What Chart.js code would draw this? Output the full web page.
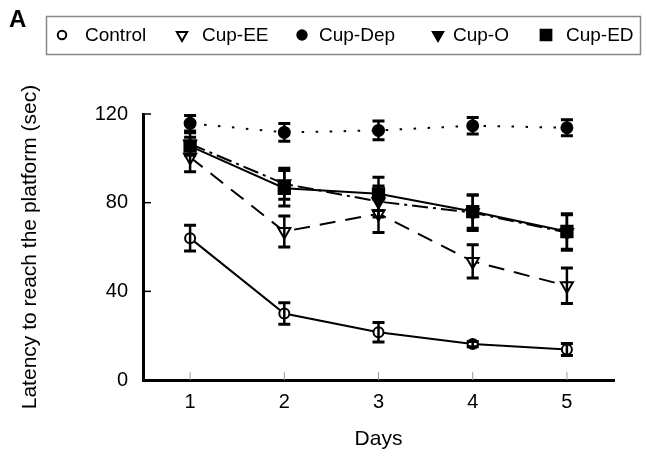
<!DOCTYPE html>
<html>
<head>
<meta charset="utf-8">
<script src="https://cdn.jsdelivr.net/npm/chart.js@4.4.1/dist/chart.umd.min.js"></script>
<style>
html,body{margin:0;padding:0;background:#fff;}
#wrap{position:relative;width:646px;height:463px;}
canvas{display:block;}
</style>
</head>
<body>
<div id="wrap"><canvas id="c" width="646" height="463"></canvas></div>
<script>
// ---- data ----
const days = [1, 2, 3, 4, 5];
const yTicks = [0, 40, 80, 120];
const seriesNames = ["Control", "Cup-EE", "Cup-Dep", "Cup-O", "Cup-ED"];
const control    = [64, 30, 21.5, 16.2, 13.8];
const controlErr = [5.8, 4.8, 4.4, 1.2, 2.7];
const cupEE      = [100.5, 67, 75, 53.5, 42.5];
const cupEEErr   = [6.5, 7, 8.5, 7.5, 8];
const cupDep     = [115.8, 111.7, 112.6, 114.7, 113.8];
const cupDepErr  = [3.5, 4, 4.2, 3.7, 3.6];
const cupO       = [106.5, 88.5, 80.5, 75.5, 66.5];
const cupOErr    = [5, 7, 7, 8, 8];
const cupED      = [105.5, 86.5, 84, 76, 67];
const cupEDErr   = [4, 8, 7.5, 7.5, 8];

const FONT = "'Liberation Sans', Arial, sans-serif";

function pts(vals){ return days.map((d,i)=>({x:d, y:vals[i]})); }

const styles = [
  {name: seriesNames[0], data: control, err: controlErr, dash: [], pointStyle:'circle', r:5, fill:'#fff', rot:0},
  {name: seriesNames[1], data: cupEE, err: cupEEErr, dash: [16,10], pointStyle:'triangle', r:7, fill:'#fff', rot:180},
  {name: seriesNames[2], data: cupDep, err: cupDepErr, dash: [2.5,11.5], pointStyle:'circle', r:5.5, fill:'#000', rot:0},
  {name: seriesNames[3], data: cupO, err: cupOErr, dash: [16,5,3,5], pointStyle:'triangle', r:7, fill:'#000', rot:180},
  {name: seriesNames[4], data: cupED, err: cupEDErr, dash: [], pointStyle:'rect', r:8, fill:'#000', rot:0}
];

const datasets = styles.map(s => ({
  label: s.name,
  data: pts(s.data),
  errors: s.err,
  borderColor: '#000',
  borderWidth: 2,
  borderDash: s.dash,
  pointStyle: s.pointStyle,
  pointRadius: s.r,
  pointRotation: s.rot,
  pointBackgroundColor: s.fill,
  pointBorderColor: '#000',
  pointBorderWidth: 2,
  fill: false,
  tension: 0
}));

const errorBars = {
  id: 'errorBars',
  afterDatasetsDraw(chart){
    const ctx = chart.ctx, ys = chart.scales.y, xs = chart.scales.x;
    ctx.save();
    ctx.strokeStyle = '#000';
    ctx.setLineDash([]);
    chart.data.datasets.forEach(ds => {
      ds.data.forEach((p,i) => {
        const e = ds.errors[i];
        const x = xs.getPixelForValue(p.x);
        const y1 = ys.getPixelForValue(p.y + e);
        const y2 = ys.getPixelForValue(p.y - e);
        ctx.lineWidth = 2.5;
        ctx.beginPath(); ctx.moveTo(x, y1); ctx.lineTo(x, y2); ctx.stroke();
        ctx.lineWidth = 3;
        ctx.beginPath();
        ctx.moveTo(x-6, y1); ctx.lineTo(x+6, y1);
        ctx.moveTo(x-6, y2); ctx.lineTo(x+6, y2);
        ctx.stroke();
      });
    });
    ctx.restore();
  }
};

const innerTicks = {
  id: 'innerTicks',
  afterDraw(chart){
    const ctx = chart.ctx, ys = chart.scales.y, xs = chart.scales.x, a = chart.chartArea;
    ctx.save();
    ctx.strokeStyle = '#000';
    ctx.lineWidth = 1.5;
    yTicks.forEach(v => {
      const y = ys.getPixelForValue(v);
      ctx.beginPath(); ctx.moveTo(a.left, y); ctx.lineTo(a.left + 8, y); ctx.stroke();
    });
    ctx.strokeStyle = '#999';
    ctx.lineWidth = 1;
    days.forEach(d => {
      const x = xs.getPixelForValue(d);
      ctx.beginPath(); ctx.moveTo(x, a.bottom); ctx.lineTo(x, a.bottom - 8); ctx.stroke();
    });
    ctx.restore();
  }
};

const boxLegend = {
  id: 'boxLegend',
  afterDraw(chart){
    const ctx = chart.ctx;
    ctx.save();
    ctx.fillStyle = '#000';
    ctx.font = "bold 24px " + FONT;
    ctx.textBaseline = 'middle';
    ctx.textAlign = 'left';
    ctx.fillText('A', 9, 20);
    ctx.strokeStyle = '#888';
    ctx.lineWidth = 1.5;
    ctx.strokeRect(46.5, 16.5, 594, 38);
    const mx = [62, 182, 302, 438, 546];
    const tx = [85, 202, 319, 453, 566];
    ctx.font = "19px " + FONT;
    styles.forEach((s,i) => {
      ctx.fillStyle = s.fill;
      ctx.strokeStyle = '#000';
      ctx.lineWidth = 2;
      ctx.setLineDash([]);
      ctx.beginPath();
      const r = s.r * (s.pointStyle==='rect' ? 0.95 : 0.85);
      if (s.pointStyle === 'circle') { ctx.arc(mx[i], 35, r, 0, Math.PI*2); }
      else if (s.pointStyle === 'rect') { const h = r*Math.SQRT1_2; ctx.rect(mx[i]-h, 35-h, 2*h, 2*h); }
      else {
        ctx.moveTo(mx[i]-r*0.87, 35 - r*0.5);
        ctx.lineTo(mx[i]+r*0.87, 35 - r*0.5);
        ctx.lineTo(mx[i], 35 + r);
        ctx.closePath();
      }
      ctx.fill(); ctx.stroke();
      ctx.fillStyle = '#000';
      ctx.fillText(s.name, tx[i], 36);
    });
    ctx.restore();
  }
};

new Chart(document.getElementById('c'), {
  type: 'line',
  data: { datasets },
  options: {
    responsive: false,
    animation: false,
    layout: { padding: { top: 114, right: 32, left: 0, bottom: 0 } },
    plugins: { legend: { display: false }, tooltip: { enabled: false } },
    scales: {
      x: {
        type: 'linear',
        min: 0.5, max: 5.5,
        afterBuildTicks(s){ s.ticks = days.map(v => ({value: v})); },
        afterFit(s){ s.height = 83; },
        grid: { display: false, drawTicks: false },
        border: { display: true, color: '#000', width: 3 },
        ticks: { color: '#000', font: { family: FONT, size: 20 }, padding: 10, callback: v => String(v) },
        title: { display: true, text: 'Days', color: '#000', font: { family: FONT, size: 21 }, padding: { top: 6, bottom: 11 } }
      },
      y: {
        min: 0, max: 120,
        afterBuildTicks(s){ s.ticks = yTicks.map(v => ({value: v})); },
        afterFit(s){ s.width = 143; },
        grid: { display: false, drawTicks: false },
        border: { display: true, color: '#000', width: 3 },
        ticks: { color: '#000', font: { family: FONT, size: 20 }, padding: 15 },
        title: { display: true, text: 'Latency to reach the platform (sec)', color: '#000', font: { family: FONT, size: 21 }, padding: { top: 18, bottom: 0 } }
      }
    }
  },
  plugins: [errorBars, innerTicks, boxLegend]
});
</script>
</body>
</html>
